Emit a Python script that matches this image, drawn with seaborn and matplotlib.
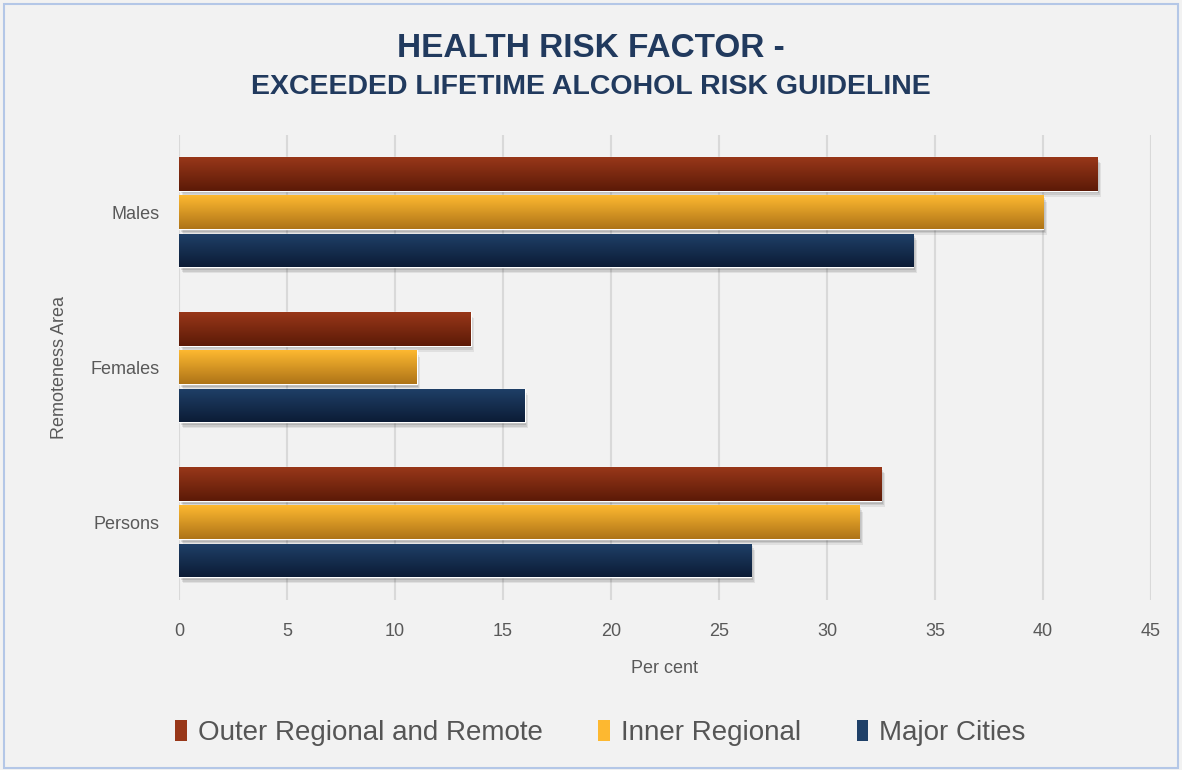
import matplotlib
matplotlib.use("Agg")
import matplotlib.pyplot as plt
from matplotlib.colors import LinearSegmentedColormap
from matplotlib.patches import Rectangle, Patch
import numpy as np
import pandas as pd
import seaborn as sns

# data
groups = ['Males', 'Females', 'Persons']
areas = ['Outer Regional and Remote', 'Inner Regional', 'Major Cities']
outer_regional = [42.5, 13.5, 32.5]
inner_regional = [40.0, 11.0, 31.5]
major_cities = [34.0, 16.0, 26.5]
x_ticks = [0, 5, 10, 15, 20, 25, 30, 35, 40, 45]

# gradient colours (top, bottom) per series
grad = {'Outer Regional and Remote': ('#983719', '#5C1A07'),
        'Inner Regional': ('#FDB830', '#AE7418'),
        'Major Cities': ('#1F4068', '#0C1C36')}

df = pd.DataFrame({'group': groups * 3,
                   'area': np.repeat(areas, 3),
                   'value': outer_regional + inner_regional + major_cities})

sns.set_theme(style='white')
plt.rcParams['font.family'] = ['Liberation Sans', 'DejaVu Sans']
bg = '#F2F2F2'
txt = '#595959'

fig = plt.figure(figsize=(11.82, 7.7), dpi=100, facecolor=bg)
ax = fig.add_axes([0.1514, 0.221, 0.8224, 0.604])
ax.set_facecolor(bg)

sns.barplot(data=df, x='value', y='group', hue='area', hue_order=areas,
            order=groups, orient='h', width=0.74, gap=0.12,
            palette=[grad[a][0] for a in areas], legend=False, ax=ax,
            zorder=3)

# replace the flat fill with a vertical gradient and a soft drop shadow
for cont, area in zip(ax.containers, areas):
    cmap = LinearSegmentedColormap.from_list(area, list(grad[area]))
    for bar in cont:
        x0, y0 = bar.get_x(), bar.get_y()
        w, h = bar.get_width(), bar.get_height()
        for k, a in enumerate([0.07, 0.09, 0.11]):
            d = 0.28 - 0.08 * k
            ax.add_patch(Rectangle((x0 + d * 0.6, y0 + d * 0.14), w, h,
                                   facecolor='black', alpha=a, lw=0, zorder=2))
        im = ax.imshow(np.linspace(0, 1, 64).reshape(-1, 1), cmap=cmap,
                       aspect='auto', extent=(x0, x0 + w, y0 + h, y0),
                       zorder=4, interpolation='bilinear')
        im.set_clip_path(bar)

ax.set_xlim(0, 45)
ax.set_ylim(2.5, -0.5)
ax.set_xticks(x_ticks)
ax.xaxis.grid(True, color='#D9D9D9', lw=1.5)
ax.set_axisbelow(True)
for s in ax.spines.values():
    s.set_visible(False)
ax.tick_params(axis='x', length=8, width=1.2, color='#D9D9D9',
               labelsize=13, labelcolor=txt, pad=9)
ax.tick_params(axis='y', length=0, labelsize=13, labelcolor=txt, pad=14)
ax.set_xlabel('Per cent', fontsize=13, color=txt, labelpad=14)
ax.set_ylabel('Remoteness Area', fontsize=13, color=txt, labelpad=16)

fig.text(0.5, 0.937, 'HEALTH RISK FACTOR -', ha='center', va='center',
         fontsize=24, fontweight='bold', color='#213A5E')
fig.text(0.5, 0.887, 'EXCEEDED LIFETIME ALCOHOL RISK GUIDELINE', ha='center',
         va='center', fontsize=20.5, fontweight='bold', color='#213A5E')

handles = [Patch(facecolor=grad[a][0], edgecolor='none') for a in areas]
leg = fig.legend(handles, areas, loc='center', bbox_to_anchor=(0.508, 0.048),
                 ncol=3, frameon=False, fontsize=20, handlelength=0.42,
                 handleheight=0.75, handletextpad=0.4, columnspacing=2.0)
for t in leg.get_texts():
    t.set_color('#555555')

fig.add_artist(Rectangle((0.003, 0.003), 0.994, 0.992, transform=fig.transFigure,
                         fill=False, edgecolor='#B4C7E7', lw=1.5))

fig.savefig('out.png', dpi=100, facecolor=bg)
